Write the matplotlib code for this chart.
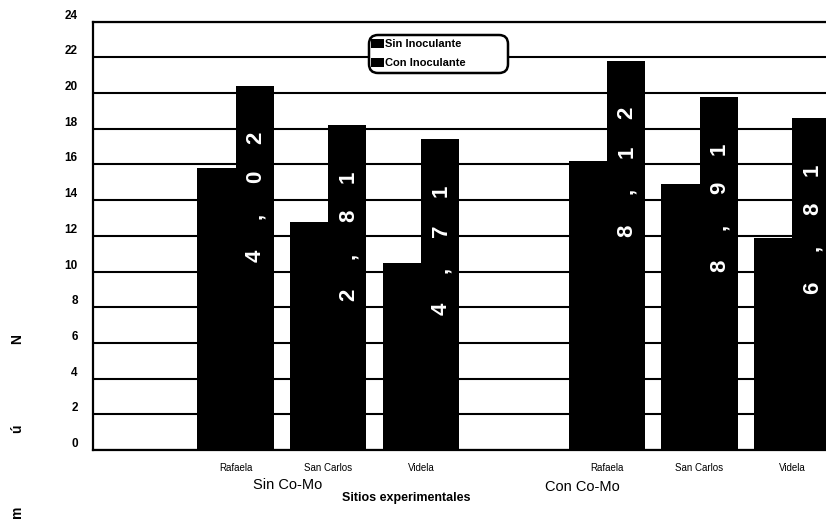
import numpy as np
import matplotlib
matplotlib.use('Agg')
import matplotlib.pyplot as plt
from matplotlib.patches import FancyBboxPatch
from matplotlib.transforms import IdentityTransform

plt.rcParams['font.family'] = ['Liberation Sans', 'DejaVu Sans']

# data: nodule counts per site, with and without inoculant
sites = ["Rafaela", "San Carlos", "Videla"]
groups = ["Sin Co-Mo", "Con Co-Mo"]
sin_inoc = [15.8, 12.8, 10.5, 16.2, 14.9, 11.9]
con_inoc = [20.4, 18.2, 17.4, 21.8, 19.8, 18.6]
yticks = list(range(0, 25, 2))
ylabel_chars = ["N", "ú", "m"]

pos = np.array([0, 1, 2, 4, 5, 6])
w = 0.41

fig = plt.figure(figsize=(8.26, 5.2), dpi=100)
ax = fig.add_axes([0.1126, 0.1346, 1 - 0.1126, 0.8237])

b1 = ax.bar(pos - w / 2, sin_inoc, w, color='black', zorder=2, label='Sin Inoculante')
b2 = ax.bar(pos + w / 2, con_inoc, w, color='black', zorder=2, label='Con Inoculante')

# value labels: one rotated glyph per character, stacked downwards
for x, v in zip(pos, con_inoc):
    txt = "{:.1f}".format(v).replace('.', ',')
    for k, ch in enumerate(txt):
        ax.text(x + w / 2 + 0.07, v - 2.9 - 2.2 * k, ch, rotation=90,
                rotation_mode='anchor', ha='center', va='baseline',
                color='white', fontsize=16, fontweight='bold', zorder=3)

ax.set_xlim(-1.536, 6.363)
ax.set_ylim(0, 24)
ax.set_yticks(yticks)
ax.set_xticks(pos)
ax.set_xticklabels(sites * 2)
ax.yaxis.grid(True, color='black', lw=1.5, zorder=1)
ax.set_axisbelow(True)
for s in ['left', 'bottom', 'top']:
    ax.spines[s].set_linewidth(1.6)
ax.spines['right'].set_visible(False)
ax.tick_params(axis='y', length=0, pad=11, labelsize=8.5)
ax.tick_params(axis='x', length=0, pad=9, labelsize=7)
for lab in ax.get_yticklabels():
    lab.set_fontweight('bold')
    lab.set_va('bottom')

# rounded legend box, drawn in pixels
box = FancyBboxPatch((369, 520 - 73), 139, 38, boxstyle='round,pad=0,rounding_size=9',
                     transform=IdentityTransform(), facecolor='white',
                     edgecolor='black', lw=1.8, zorder=1)
fig.patches.append(box)
leg = fig.legend(handles=[b1, b2], loc='upper left',
                 bbox_to_anchor=(371 / 826, 1 - 39 / 520), frameon=False,
                 fontsize=8, handlelength=1.2, handleheight=0.9,
                 handletextpad=0.05, borderpad=0, labelspacing=0.75,
                 borderaxespad=0)
for t in leg.get_texts():
    t.set_fontweight('bold')

fig.text(288 / 826, 1 - 485 / 520, groups[0], ha='center', va='center', fontsize=10.5)
fig.text(582 / 826, 1 - 487 / 520, groups[1], ha='center', va='center', fontsize=10.5)
fig.text(406 / 826, 1 - 498 / 520, "Sitios experimentales", ha='center', va='center',
         fontsize=9, fontweight='bold')

for ch, yp in zip(ylabel_chars, [339, 429, 512]):
    fig.text(17 / 826, 1 - yp / 520, ch, rotation=90, ha='center', va='center',
             fontsize=10, fontweight='bold')

fig.savefig('out.png', dpi=100)
